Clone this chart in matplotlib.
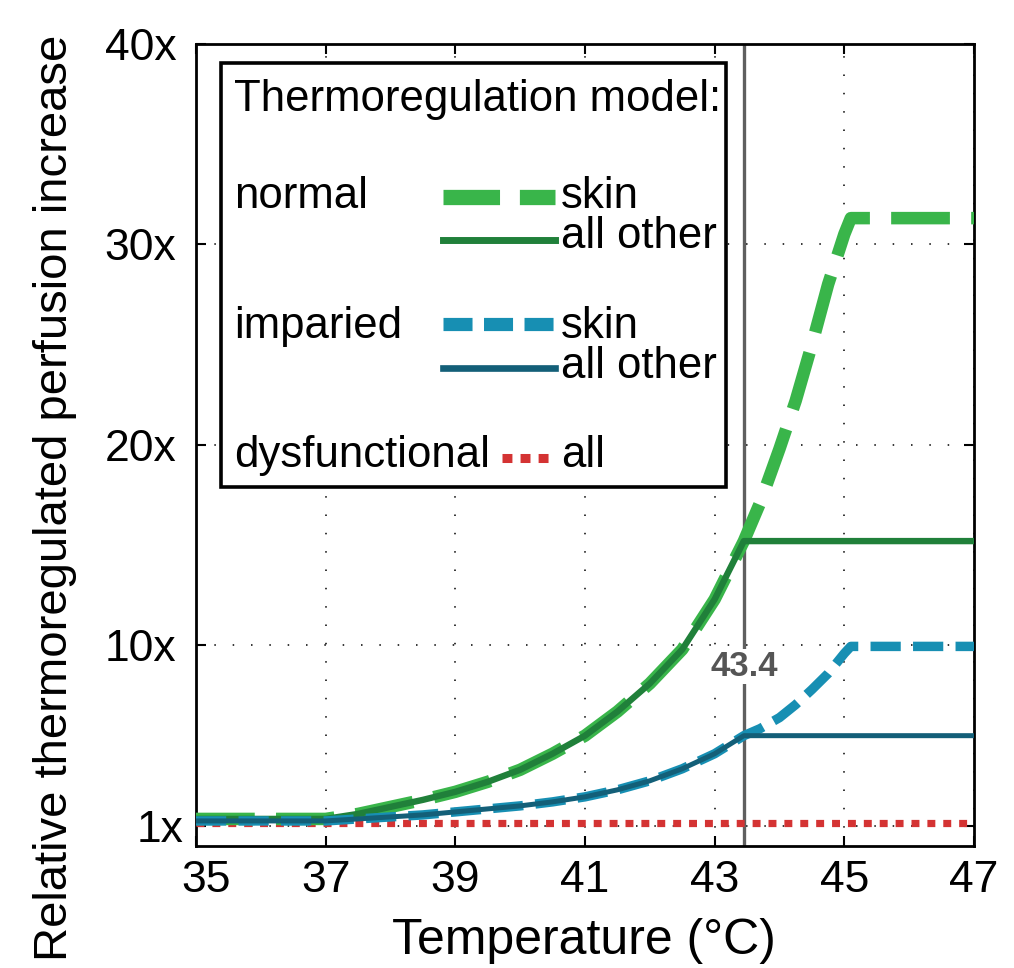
import matplotlib
matplotlib.use('Agg')
import matplotlib.pyplot as plt
from matplotlib.lines import Line2D
from matplotlib.patches import Rectangle
from matplotlib.transforms import ScaledTranslation

plt.rcParams['font.family'] = ['Liberation Sans', 'DejaVu Sans']

# values
temp = [35, 37, 37.5, 38, 38.5, 39, 39.5, 40, 40.5, 41, 41.5, 42, 42.5, 43, 43.45,
        43.7, 44.0, 44.25, 44.5, 44.75, 45.0, 45.1, 47]
normal_skin = [1.35, 1.35, 1.6, 1.95, 2.3, 2.7, 3.2, 3.8, 4.6, 5.5, 6.7, 8.1, 9.8, 12.3, 15.2,
               17.1, 19.8, 22.2, 25.0, 28.0, 30.5, 31.3, 31.3]
normal_other = [1.35, 1.35, 1.6, 1.95, 2.3, 2.7, 3.2, 3.8, 4.6, 5.5, 6.7, 8.1, 9.8, 12.3, 15.2,
                15.2, 15.2, 15.2, 15.2, 15.2, 15.2, 15.2, 15.2]
impaired_skin = [1.25, 1.25, 1.35, 1.45, 1.55, 1.7, 1.85, 2.0, 2.2, 2.45, 2.8, 3.25, 3.85, 4.6, 5.5,
                 5.85, 6.4, 7.05, 7.8, 8.6, 9.6, 9.95, 9.95]
impaired_other = [1.25, 1.25, 1.35, 1.45, 1.55, 1.7, 1.85, 2.0, 2.2, 2.45, 2.8, 3.25, 3.85, 4.6, 5.5,
                  5.5, 5.5, 5.5, 5.5, 5.5, 5.5, 5.5, 5.5]
dysfunctional = [1.15] * len(temp)

threshold = 43.45
threshold_label = '43.4'

x_ticks = [35, 37, 39, 41, 43, 45, 47]
y_ticks = [1, 10, 20, 30, 40]
y_ticklabels = ['1x', '10x', '20x', '30x', '40x']

c_green = '#39b54a'
c_dgreen = '#20803a'
c_blue = '#178fb3'
c_dblue = '#135f78'
c_red = '#d43333'

W, H = 1014, 968
fig = plt.figure(figsize=(W / 100, H / 100), dpi=100)
ax = fig.add_axes([196 / W, 1 - 846 / H, 778 / W, 802.4 / H])


def fxy(px, py):
    return px / W, 1 - py / H


ax.axvline(threshold, color='#5f5f5f', lw=2.4, zorder=2)
ax.plot(temp, dysfunctional, color=c_red, lw=5.2, dashes=(1.1, 1.1), zorder=3)
ax.plot(temp, normal_skin, color=c_green, lw=9, dashes=(4.7, 1.7), zorder=4)
ax.plot(temp, normal_other, color=c_dgreen, lw=4.6, zorder=5)
ax.plot(temp, impaired_skin, color=c_blue, lw=6.8, dashes=(3.2, 1.3), zorder=6)
ax.plot(temp, impaired_other, color=c_dblue, lw=3.6, zorder=7)

ax.text(threshold, 8.95, threshold_label, ha='center', va='center', fontsize=25,
        fontweight='bold', color='#555555', zorder=8,
        bbox=dict(facecolor='white', edgecolor='none', pad=1))

ax.set_xlim(35, 47)
ax.set_ylim(0, 40)
ax.set_xticks(x_ticks)
ax.set_yticks(y_ticks)
ax.set_yticklabels(y_ticklabels)
ax.tick_params(direction='in', length=7, width=1.5, labelsize=32,
               top=True, right=True)
ax.tick_params(axis='x', pad=10)
ax.tick_params(axis='y', pad=14)
ax.grid(True, color='black', linestyle=(0, (1, 11)), linewidth=1.1)
for s in ax.spines.values():
    s.set_linewidth(2)

# matlab nudges the first labels a little
lab = ax.xaxis.get_major_ticks()[0].label1
lab.set_transform(lab.get_transform() + ScaledTranslation(0.10, 0, fig.dpi_scale_trans))
lab = ax.yaxis.get_major_ticks()[0].label1
lab.set_transform(lab.get_transform() + ScaledTranslation(0.07, 0, fig.dpi_scale_trans))

tx, ty = fxy(584, 954)
fig.text(tx, ty, 'Temperature (°C)', fontsize=36, ha='center', va='baseline')
tx, ty = fxy(55, 498)
fig.text(tx, ty, 'Relative thermoregulated perfusion increase', fontsize=34,
         rotation=90, ha='center', va='center')

# hand-made legend box
x0, y0 = fxy(221, 487)
x1, y1 = fxy(725.5, 63)
fig.add_artist(Rectangle((x0, y0), x1 - x0, y1 - y0, transform=fig.transFigure,
                         facecolor='white', edgecolor='black', lw=2.6, zorder=10))

fs = 31.5
texts = [
    ('Thermoregulation model:', 234, 111),
    ('normal', 234, 208), ('skin', 561, 208), ('all other', 561, 248),
    ('imparied', 234, 338), ('skin', 561, 338), ('all other', 561, 378),
    ('dysfunctional', 234, 467), ('all', 561, 467),
]
for s, px, py in texts:
    tx, ty = fxy(px, py)
    fig.text(tx, ty, s, fontsize=fs, ha='left', va='baseline', zorder=11)

samples = [
    (443, 555, 197, dict(color=c_green, lw=11, dashes=(3.7, 1.3))),
    (443, 555, 240, dict(color=c_dgreen, lw=5)),
    (443, 555, 324, dict(color=c_blue, lw=9.5, dashes=(2.2, 0.87))),
    (443, 555, 368, dict(color=c_dblue, lw=4.8)),
    (502, 555, 458, dict(color=c_red, lw=6.5, dashes=(1.1, 0.9))),
]
for xa, xb, py, kw in samples:
    xa_f, yf = fxy(xa, py)
    xb_f, _ = fxy(xb, py)
    fig.add_artist(Line2D([xa_f, xb_f], [yf, yf], transform=fig.transFigure,
                          zorder=11, **kw))

fig.savefig('out.png', dpi=100)
